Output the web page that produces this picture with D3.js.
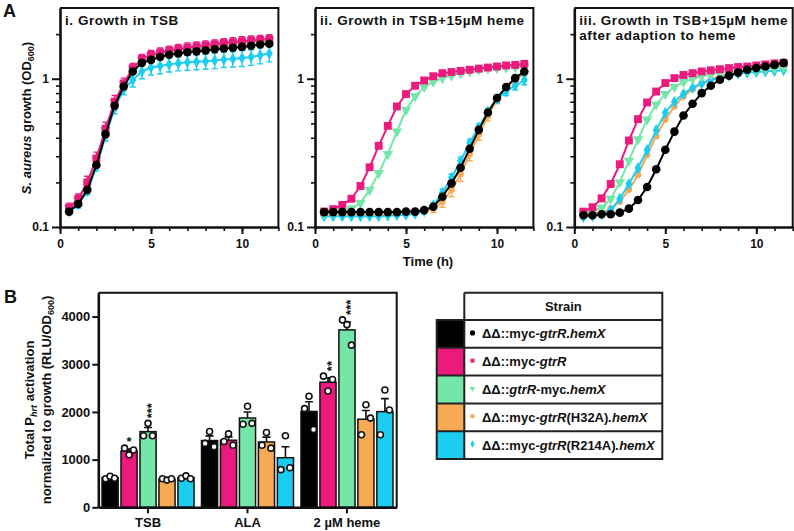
<!DOCTYPE html><meta charset="utf-8">
<style>
*{margin:0}
body{background:#fff}
text{font-family:Arial,"Liberation Sans",sans-serif;font-weight:bold;fill:#111}
.axis path,.axis line{stroke:#111}
</style>
<svg width="794" height="531"></svg>
<script src="https://d3js.org/d3.v7.min.js"></script>
<script>
// ---- data ----
const strains = ["myc-gtrR.hemX","myc-gtrR","gtrR-myc.hemX","myc-gtrR(H32A).hemX","myc-gtrR(R214A).hemX"];
const colors  = ["#000000","#ec1a7c","#74e6a8","#f8a954","#1bcdf1"];
const time = [0.5,1,1.5,2,2.5,3,3.5,4,4.5,5,5.5,6,6.5,7,7.5,8,8.5,9,9.5,10,10.5,11,11.5];

// panel i. TSB
const iBlack  = [0.127,0.143,0.178,0.262,0.423,0.657,0.887,1.12,1.28,1.34,1.40,1.45,1.48,1.51,1.53,1.55,1.58,1.60,1.62,1.64,1.67,1.70,1.72];
const iPink   = [0.135,0.155,0.20,0.29,0.46,0.70,0.93,1.18,1.36,1.45,1.50,1.55,1.59,1.62,1.65,1.68,1.71,1.74,1.76,1.79,1.81,1.83,1.85];
const iGreen  = [0.133,0.152,0.195,0.285,0.45,0.69,0.92,1.16,1.33,1.42,1.47,1.52,1.56,1.59,1.62,1.65,1.68,1.70,1.72,1.75,1.77,1.79,1.81];
const iOrange = [0.130,0.148,0.19,0.275,0.44,0.68,0.90,1.14,1.31,1.40,1.45,1.50,1.54,1.57,1.60,1.62,1.65,1.67,1.70,1.72,1.74,1.76,1.78];
const iCyan   = [0.128,0.142,0.175,0.255,0.41,0.63,0.85,0.98,1.12,1.19,1.22,1.25,1.27,1.29,1.30,1.31,1.33,1.35,1.36,1.38,1.40,1.44,1.48];
const iPinkErr = [0.01,0.012,0.02,0.03,0.05,0.07,0.08,0.09,0.10,0.10,0.11,0.11,0.11,0.12,0.12,0.12,0.12,0.12,0.13,0.13,0.13,0.13,0.13];
const iCyanErr = [0.005,0.008,0.01,0.015,0.03,0.05,0.07,0.10,0.12,0.13,0.14,0.14,0.14,0.15,0.15,0.15,0.16,0.16,0.16,0.17,0.17,0.18,0.18];

// panel ii. TSB + 15 uM heme
const iiBlack  = [0.126,0.126,0.126,0.126,0.126,0.126,0.126,0.126,0.126,0.127,0.127,0.130,0.137,0.160,0.197,0.251,0.337,0.452,0.592,0.741,0.88,1.01,1.12];
const iiPink   = [0.127,0.132,0.141,0.155,0.189,0.253,0.353,0.481,0.65,0.788,0.897,0.974,1.04,1.09,1.11,1.13,1.15,1.17,1.19,1.21,1.23,1.24,1.26];
const iiGreen  = [0.123,0.125,0.128,0.133,0.145,0.178,0.231,0.311,0.44,0.617,0.76,0.88,0.955,1.01,1.05,1.09,1.12,1.15,1.17,1.18,1.19,1.20,1.21];
const iiOrange = [0.122,0.122,0.122,0.122,0.122,0.122,0.122,0.122,0.123,0.123,0.124,0.127,0.133,0.148,0.178,0.228,0.31,0.42,0.56,0.72,0.86,0.98,1.08];
const iiCyan   = [0.118,0.118,0.118,0.118,0.118,0.118,0.118,0.119,0.120,0.121,0.123,0.128,0.14,0.17,0.215,0.28,0.37,0.47,0.60,0.73,0.82,0.90,0.98];
const iiOrangeErr = [0,0,0,0,0,0,0,0,0,0,0,0.004,0.008,0.012,0.018,0.025,0.03,0.035,0.04,0.04,0.04,0.03,0.03];
const iiCyanErr   = [0,0,0,0,0,0,0,0,0,0,0,0.003,0.006,0.01,0.012,0.015,0.02,0.025,0.03,0.04,0.05,0.06,0.07];

// panel iii. TSB + 15 uM heme after adaption
const iiiBlack  = [0.120,0.120,0.122,0.122,0.125,0.133,0.152,0.186,0.245,0.332,0.44,0.565,0.678,0.80,0.897,0.985,1.05,1.10,1.15,1.18,1.21,1.24,1.28];
const iiiPink   = [0.127,0.136,0.156,0.195,0.265,0.383,0.534,0.692,0.82,0.935,1.01,1.06,1.09,1.12,1.14,1.16,1.18,1.20,1.21,1.23,1.25,1.27,1.28];
const iiiGreen  = [0.125,0.127,0.135,0.155,0.20,0.28,0.39,0.53,0.67,0.79,0.88,0.95,1.00,1.04,1.07,1.10,1.12,1.13,1.15,1.16,1.17,1.18,1.19];
const iiiOrange = [0.122,0.123,0.125,0.133,0.148,0.178,0.224,0.306,0.41,0.53,0.65,0.76,0.85,0.93,0.99,1.04,1.08,1.12,1.15,1.17,1.19,1.20,1.22];
const iiiCyan   = [0.117,0.118,0.122,0.130,0.155,0.195,0.25,0.33,0.45,0.59,0.70,0.79,0.87,0.93,0.98,1.02,1.05,1.08,1.10,1.11,1.12,1.13,1.14];

// panel B: three replicates per strain and condition
const conditions = ["TSB","ALA","2 µM heme"];
const tsbPts  = [[600,650,610],[1240,1100,1200],[1500,1760,1500],[600,570,600],[610,660,600]];
const alaPts  = [[1340,1590,1270],[1380,1540,1300],[1740,2120,1760],[1300,1570,1240],[790,1500,830]];
const hemePts = [[2070,2330,1630],[2750,2440,2680],[3930,3830,3400],[1520,2150,1870],[1520,2460,2040]];
const stars = [["TSB",1,"*"],["TSB",2,"***"],["2 µM heme",1,"**"],["2 µM heme",2,"***"]];

const svg = d3.select("svg");
const FONT = 'Arial,"Liberation Sans",sans-serif';

// ---- panel A ----
const panels = [
  {x0:60,    title:["i. Growth in TSB"],
   series:[[iOrange,3],[iCyan,4,iCyanErr],[iGreen,2],[iPink,1,iPinkErr],[iBlack,0]]},
  {x0:315,   title:["ii. Growth in TSB+15µM heme"],
   series:[[iiOrange,3,iiOrangeErr],[iiCyan,4,iiCyanErr],[iiGreen,2],[iiPink,1],[iiBlack,0]]},
  {x0:574.3, title:["iii. Growth in TSB+15µM heme","after adaption to heme"],
   series:[[iiiOrange,3],[iiiCyan,4],[iiiGreen,2],[iiiPink,1],[iiiBlack,0]]}
];
const pTop = 8, pBot = 227;
const y = d3.scaleLog().domain([0.1,3]).range([pBot,pTop]);
const symbols = [
  d3.symbol(d3.symbolCircle,58), d3.symbol(d3.symbolSquare,62),
  d3.symbol(d3.symbolTriangle,48), d3.symbol(d3.symbolCircle,34),
  d3.symbol(d3.symbolDiamond,42)];
const minorY = [0.2,0.3,0.4,0.5,0.6,0.7,0.8,0.9,2];

panels.forEach(p => {
  const x = d3.scaleLinear().domain([0,12]).range([p.x0, p.x0+218.4]);
  const g = svg.append("g");
  // frame
  g.append("path").attr("fill","none").attr("stroke","#111").attr("stroke-width",2)
    .attr("d",`M${x(0)},${pTop}H${x(12)}V${pBot}`);
  // axes
  g.append("g").attr("class","axis").attr("transform",`translate(0,${pBot})`)
    .call(d3.axisBottom(x).tickValues(d3.range(0,13)).tickSize(4).tickFormat("").tickSizeOuter(0))
    .call(a=>a.selectAll("line").attr("stroke-width",1.6)).call(a=>a.select("path").remove());
  g.append("g").attr("class","axis").attr("transform",`translate(0,${pBot})`)
    .call(d3.axisBottom(x).tickValues([0,5,10]).tickSize(7).tickPadding(5).tickSizeOuter(0))
    .call(a=>a.selectAll("line").attr("stroke-width",2))
    .call(a=>a.select("path").attr("stroke-width",2.6))
    .call(a=>a.selectAll("text").style("font",`bold 12px ${FONT}`).attr("fill","#111"));
  g.append("g").attr("class","axis").attr("transform",`translate(${x(0)},0)`)
    .call(d3.axisLeft(y).tickValues(minorY).tickSize(4).tickFormat("").tickSizeOuter(0))
    .call(a=>a.selectAll("line").attr("stroke-width",1.6)).call(a=>a.select("path").remove());
  g.append("g").attr("class","axis").attr("transform",`translate(${x(0)},0)`)
    .call(d3.axisLeft(y).tickValues([0.1,1]).tickSize(8).tickPadding(3).tickFormat(d=>d===1?"1":"0.1").tickSizeOuter(0))
    .call(a=>a.selectAll("line").attr("stroke-width",2))
    .call(a=>a.select("path").attr("stroke-width",2.6))
    .call(a=>a.selectAll("text").style("font",`bold 12px ${FONT}`).attr("fill","#111"));
  // titles
  p.title.forEach((t,i)=>g.append("text").attr("x",x(0)+5).attr("y",25+i*15)
    .style("font-size","13.5px").style("letter-spacing","0.55px").text(t));
  // series
  const line = d3.line().x((d,i)=>x(time[i])).y(d=>y(d));
  p.series.forEach(([vals,si,err]) => {
    const c = colors[si], s = g.append("g");
    if (err) {
      vals.forEach((v,i)=>{
        if (!err[i]) return;
        const xx = x(time[i]);
        s.append("path").attr("stroke",c).attr("stroke-width",1.4).attr("fill","none")
          .attr("d",`M${xx},${y(v-err[i])}V${y(v+err[i])}M${xx-3},${y(v-err[i])}h6M${xx-3},${y(v+err[i])}h6`);
      });
    }
    s.append("path").datum(vals).attr("fill","none").attr("stroke",c).attr("stroke-width",2).attr("d",line);
    s.selectAll(".m").data(vals).join("path")
      .attr("transform",(d,i)=>`translate(${x(time[i])},${y(d)})${si===2?" rotate(180)":""}`)
      .attr("d",symbols[si]).attr("fill",c);
  });
});
svg.append("text").attr("x",3).attr("y",17).style("font-size","18px").text("A");
svg.append("text").attr("x",428).attr("y",266).attr("text-anchor","middle").style("font-size","13px").text("Time (h)");
const yA = svg.append("text").attr("transform","translate(31,118) rotate(-90)").attr("text-anchor","middle").style("font-size","13px");
yA.append("tspan").style("font-style","italic").text("S. aureus");
yA.append("tspan").text(" growth (OD");
yA.append("tspan").style("font-size","9px").attr("dy",3).text("600");
yA.append("tspan").attr("dy",-3).text(")");

// ---- panel B ----
const bL = 98.3, bR = 396.7, bT = 292.7, bB = 507.3;
const pts = [tsbPts, alaPts, hemePts];
const xb = d3.scaleBand().domain(conditions).range([bL,bR]);
const xi = d3.scaleBand().domain(d3.range(5)).range([-46,46]).paddingInner(0.15);
const yb = d3.scaleLinear().domain([0,4500]).range([bB,bT]);
const gb = svg.append("g");
gb.append("path").attr("fill","none").attr("stroke","#111").attr("stroke-width",2)
  .attr("d",`M${bL},${bT}H${bR}V${bB}`);
const cx = c => xb(c)+xb.bandwidth()/2;
conditions.forEach((c,ci)=>{
  pts[ci].forEach((reps,si)=>{
    const m = d3.mean(reps), se = d3.deviation(reps)/Math.sqrt(reps.length);
    const bx = cx(c)+xi(si), bw = xi.bandwidth(), mx = bx+bw/2;
    gb.append("path").attr("stroke","#111").attr("stroke-width",1.6).attr("fill","none")
      .attr("d",`M${mx},${yb(m)}V${yb(m+se)}M${mx-4},${yb(m+se)}h8`);
    gb.append("rect").attr("x",bx).attr("y",yb(m)).attr("width",bw).attr("height",yb(0)-yb(m))
      .attr("fill",colors[si]).attr("stroke","#111").attr("stroke-width",1.5);
    reps.forEach((v,k)=>gb.append("circle").attr("cx",mx+(k-1)*4.5).attr("cy",yb(v)).attr("r",3)
      .attr("fill","#fff").attr("stroke","#111").attr("stroke-width",1.6));
  });
});
gb.append("g").attr("class","axis").attr("transform",`translate(${bL},0)`)
  .call(d3.axisLeft(yb).tickValues([0,1000,2000,3000,4000]).tickFormat(d3.format("d")).tickSize(6).tickPadding(2).tickSizeOuter(0))
  .call(a=>a.selectAll("line").attr("stroke-width",2))
  .call(a=>a.select("path").attr("stroke-width",2.6))
  .call(a=>a.selectAll("text").style("font",`bold 13px ${FONT}`).attr("fill","#111"));
gb.append("g").attr("class","axis").attr("transform",`translate(0,${bB})`)
  .call(d3.axisBottom(xb).tickSize(6).tickPadding(4).tickSizeOuter(0))
  .call(a=>a.selectAll("line").attr("stroke-width",2))
  .call(a=>a.select("path").attr("stroke-width",2.6))
  .call(a=>a.selectAll("text").style("font",`bold 13px ${FONT}`).attr("fill","#111"));
stars.forEach(([c,si,s])=>{
  const reps = pts[conditions.indexOf(c)][si];
  const m = d3.mean(reps), se = d3.deviation(reps)/Math.sqrt(reps.length);
  const yy = yb(Math.max(d3.max(reps), m+se)), mx = cx(c)+xi(si)+xi.bandwidth()/2;
  if (s.length===1) gb.append("text").attr("x",mx).attr("y",yy-2).attr("text-anchor","middle").style("font-size","13px").text(s);
  else gb.append("text").attr("transform",`translate(${mx},${yy-5}) rotate(-90)`).attr("dy","0.6em").style("font-size","13px").text(s);
});
svg.append("text").attr("x",4).attr("y",303).style("font-size","18px").text("B");
const t1 = svg.append("text").attr("transform","translate(34,400) rotate(-90)").attr("text-anchor","middle").style("font-size","13px");
t1.append("tspan").text("Total P");
t1.append("tspan").style("font-style","italic").style("font-size","9px").attr("dy",3).text("hrt");
t1.append("tspan").attr("dy",-3).text(" activation");
const t2 = svg.append("text").attr("transform","translate(51,400) rotate(-90)").attr("text-anchor","middle").style("font-size","13px");
t2.append("tspan").text("normalized to growth (RLU/OD");
t2.append("tspan").style("font-size","9px").attr("dy",3).text("600");
t2.append("tspan").attr("dy",-3).text(")");

// ---- legend table ----
const lgX = 436.7, lgC = 464.3, lgR = 662.3, lgT = 292.7, rowH = 27.8, hdrH = 27.3;
const lg = svg.append("g");
const rowY = i => lgT+hdrH+i*rowH;
strains.forEach((s,i)=>{
  lg.append("rect").attr("x",lgX).attr("y",rowY(i)).attr("width",lgC-lgX).attr("height",rowH).attr("fill",colors[i]);
  lg.append("path").attr("d",symbols[i].size(i===0?22:16)).attr("fill",colors[i])
    .attr("transform",`translate(472.5,${rowY(i)+rowH/2-1})${i===2?" rotate(180)":""}`);
  const t = lg.append("text").attr("x",482).attr("y",rowY(i)+rowH/2+4.5).style("font-size","13px");
  t.append("tspan").text("ΔΔ::");
  // split strain into italic gene names and plain parts
  s.split(/(gtrR|\.hemX)/).filter(d=>d).forEach(part=>{
    t.append("tspan").style("font-style",/gtrR|hemX/.test(part)?"italic":"normal").text(part);
  });
});
lg.append("path").attr("fill","none").attr("stroke","#222").attr("stroke-width",2)
  .attr("d",[`M${lgC},${lgT}H${lgR}V${rowY(5)}H${lgX}V${rowY(0)}H${lgR}`,`M${lgC},${lgT}V${rowY(5)}`]
    .concat(d3.range(1,5).map(i=>`M${lgX},${rowY(i)}H${lgR}`)).join(""));
lg.append("text").attr("x",(lgC+lgR)/2).attr("y",lgT+hdrH/2+5).attr("text-anchor","middle").style("font-size","13px").text("Strain");
</script>
